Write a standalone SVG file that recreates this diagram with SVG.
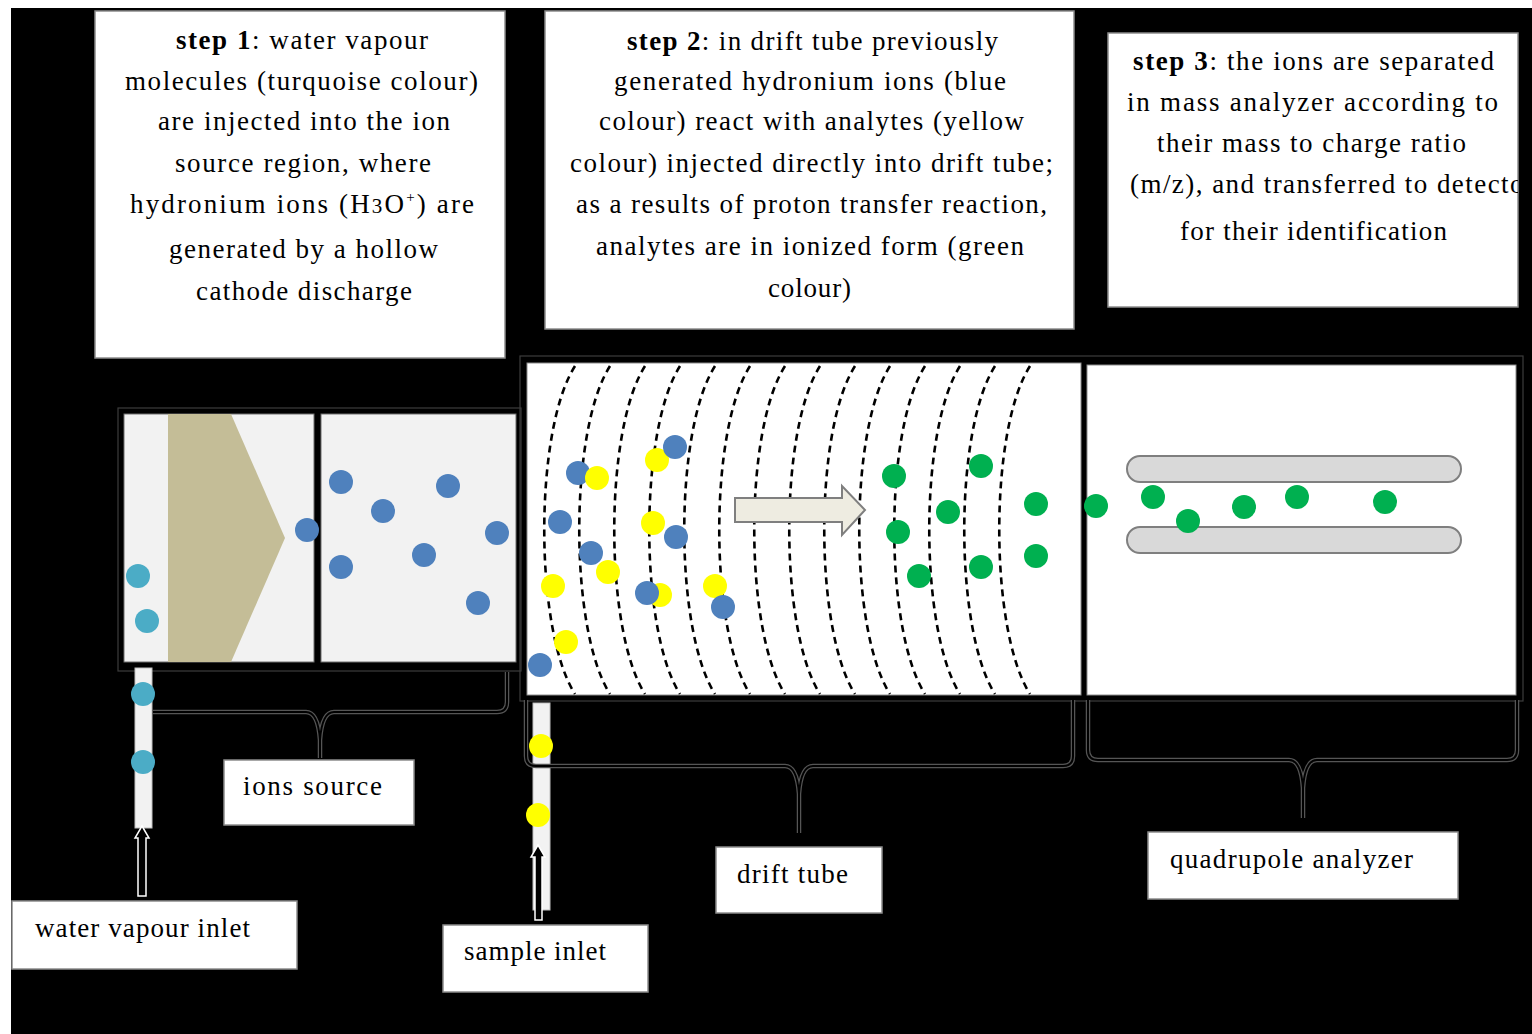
<svg xmlns="http://www.w3.org/2000/svg" xmlns:xlink="http://www.w3.org/1999/xlink" width="1532" height="1034" viewBox="0 0 1532 1034">
  <style>
    text { font-family: "Liberation Serif", "Times New Roman", serif; font-size: 27px; fill: #000; }
    .b { font-weight: bold; }
    .box { fill: #fff; stroke: #8c8c8c; stroke-width: 1.5; }
    .chamber { fill: #f2f2f2; stroke: #6e6e6e; stroke-width: 1; }
    .frame { fill: none; stroke: #3c3c3c; stroke-width: 1.2; }
    .ring { fill: none; stroke: #000; stroke-width: 2.6; stroke-dasharray: 7 5; }
    .tq { fill: #4bacc6; }
    .bl { fill: #4f81bd; }
    .ye { fill: #ffff00; }
    .gr { fill: #00b050; }
    .rod { fill: #d9d9d9; stroke: #7f7f7f; stroke-width: 2; }
    .brace-outer { fill: none; stroke: #555; stroke-width: 4.5; }
    .brace-inner { fill: none; stroke: #000; stroke-width: 2; }
    .inlet { fill: #000; stroke: #fff; stroke-width: 1.5; }
    .tube { fill: #f2f2f2; stroke: #bfbfbf; stroke-width: 1; }
  </style>
  <defs>
    <clipPath id="clip-step3"><rect x="1108" y="33" width="410" height="274"/></clipPath>
    <path id="brace-ion" d="M153,712 L306,712 Q318,712 320,740 L320,758 M320,740 Q322,712 334,712 L497,712 Q507,712 507,702 L507,672"/>
    <path id="brace-drift" d="M526,700 L526,756 Q526,766 536,766 L785,766 Q797,766 799,794 L799,833 M799,794 Q801,766 813,766 L1063,766 Q1073,766 1073,756 L1073,700"/>
    <path id="brace-quad" d="M1088,700 L1088,750 Q1088,760 1098,760 L1289,760 Q1301,760 1303,788 L1303,818 M1303,788 Q1305,760 1317,760 L1507,760 Q1517,760 1517,750 L1517,700"/>
  </defs>

  <!-- page and dark backdrop -->
  <rect x="0" y="0" width="1532" height="1034" fill="#fff"/>
  <rect x="11" y="8" width="1521" height="1026" fill="#000"/>

  <!-- step descriptions -->
  <g id="step1">
    <rect class="box" x="95" y="11" width="410" height="347"/>
    <text x="176" y="49" textLength="252" lengthAdjust="spacing"><tspan class="b">step 1</tspan>: water vapour</text>
    <text x="125" y="90" textLength="353" lengthAdjust="spacing">molecules (turquoise colour)</text>
    <text x="158" y="130" textLength="292" lengthAdjust="spacing">are injected into the ion</text>
    <text x="175" y="172" textLength="256" lengthAdjust="spacing">source region, where</text>
    <text x="130" y="213" textLength="344" lengthAdjust="spacing">hydronium ions (H<tspan font-size="21">3</tspan>O<tspan font-size="15" dy="-11">+</tspan><tspan dy="11">) are</tspan></text>
    <text x="169" y="258" textLength="269" lengthAdjust="spacing">generated by a hollow</text>
    <text x="196" y="300" textLength="216" lengthAdjust="spacing">cathode discharge</text>
  </g>

  <g id="step2">
    <rect class="box" x="545" y="11" width="529" height="318"/>
    <text x="627" y="50" textLength="371" lengthAdjust="spacing"><tspan class="b">step 2</tspan>: in drift tube previously</text>
    <text x="614" y="90" textLength="392" lengthAdjust="spacing">generated hydronium ions (blue</text>
    <text x="599" y="130" textLength="425" lengthAdjust="spacing">colour) react with analytes (yellow</text>
    <text x="570" y="172" textLength="483" lengthAdjust="spacing">colour) injected directly into drift tube;</text>
    <text x="576" y="213" textLength="471" lengthAdjust="spacing">as a results of proton transfer reaction,</text>
    <text x="596" y="255" textLength="428" lengthAdjust="spacing">analytes are in ionized form (green</text>
    <text x="768" y="297" textLength="83" lengthAdjust="spacing">colour)</text>
  </g>

  <g id="step3">
    <rect class="box" x="1108" y="33" width="410" height="274"/>
    <g clip-path="url(#clip-step3)">
      <text x="1133" y="70" textLength="361" lengthAdjust="spacing"><tspan class="b">step 3</tspan>: the ions are separated</text>
      <text x="1127" y="111" textLength="371" lengthAdjust="spacing">in mass analyzer according to</text>
      <text x="1157" y="152" textLength="309" lengthAdjust="spacing">their mass to charge ratio</text>
      <text x="1130" y="193" textLength="404" lengthAdjust="spacing">(m/z), and transferred to detector</text>
      <text x="1180" y="240" textLength="267" lengthAdjust="spacing">for their identification</text>
    </g>
  </g>

  <!-- ion source: discharge chamber and ion chamber -->
  <g id="ion-source">
    <rect class="frame" x="118" y="408" width="403" height="263"/>
    <rect class="chamber" x="124" y="414" width="190" height="248"/>
    <polygon points="168,414 231,414 285,538 231,662 168,662" fill="#c4bd97"/>
    <rect class="chamber" x="321" y="414" width="195" height="248"/>
    <circle class="tq" cx="138" cy="576" r="12"/>
    <circle class="tq" cx="147" cy="621" r="12"/>
    <circle class="bl" cx="307" cy="530" r="12"/>
    <circle class="bl" cx="341" cy="482" r="12"/>
    <circle class="bl" cx="383" cy="511" r="12"/>
    <circle class="bl" cx="448" cy="486" r="12"/>
    <circle class="bl" cx="497" cy="533" r="12"/>
    <circle class="bl" cx="341" cy="567" r="12"/>
    <circle class="bl" cx="424" cy="555" r="12"/>
    <circle class="bl" cx="478" cy="603" r="12"/>
  </g>

  <!-- drift tube with ring electrodes -->
  <g id="drift-tube">
    <rect class="frame" x="520" y="356" width="1003" height="345"/>
    <rect x="527" y="363" width="554" height="332" fill="#fff" stroke="#8c8c8c" stroke-width="1"/>
    <g>
      <path class="ring" d="M575,366 C534,430 534,630 575,694"/>
      <path class="ring" d="M610,366 C569,430 569,630 610,694"/>
      <path class="ring" d="M645,366 C604,430 604,630 645,694"/>
      <path class="ring" d="M680,366 C639,430 639,630 680,694"/>
      <path class="ring" d="M715,366 C674,430 674,630 715,694"/>
      <path class="ring" d="M750,366 C709,430 709,630 750,694"/>
      <path class="ring" d="M785,366 C744,430 744,630 785,694"/>
      <path class="ring" d="M820,366 C779,430 779,630 820,694"/>
      <path class="ring" d="M855,366 C814,430 814,630 855,694"/>
      <path class="ring" d="M890,366 C849,430 849,630 890,694"/>
      <path class="ring" d="M925,366 C884,430 884,630 925,694"/>
      <path class="ring" d="M960,366 C919,430 919,630 960,694"/>
      <path class="ring" d="M995,366 C954,430 954,630 995,694"/>
      <path class="ring" d="M1030,366 C989,430 989,630 1030,694"/>
    </g>
    <polygon points="735,498 842,498 842,486 865,510 842,535 842,522 735,522" fill="#eeece1" stroke="#7f7f7f" stroke-width="2"/>
    <circle class="bl" cx="578" cy="473" r="12"/>
    <circle class="ye" cx="597" cy="478" r="12"/>
    <circle class="ye" cx="657" cy="460" r="12"/>
    <circle class="bl" cx="675" cy="447" r="12"/>
    <circle class="bl" cx="560" cy="522" r="12"/>
    <circle class="ye" cx="653" cy="523" r="12"/>
    <circle class="bl" cx="676" cy="537" r="12"/>
    <circle class="bl" cx="591" cy="553" r="12"/>
    <circle class="ye" cx="608" cy="572" r="12"/>
    <circle class="ye" cx="553" cy="586" r="12"/>
    <circle class="ye" cx="660" cy="595" r="12"/>
    <circle class="bl" cx="647" cy="593" r="12"/>
    <circle class="ye" cx="715" cy="586" r="12"/>
    <circle class="bl" cx="723" cy="607" r="12"/>
    <circle class="ye" cx="566" cy="642" r="12"/>
    <circle class="bl" cx="540" cy="665" r="12"/>
    <circle class="gr" cx="894" cy="476" r="12"/>
    <circle class="gr" cx="981" cy="466" r="12"/>
    <circle class="gr" cx="948" cy="512" r="12"/>
    <circle class="gr" cx="898" cy="532" r="12"/>
    <circle class="gr" cx="1036" cy="504" r="12"/>
    <circle class="gr" cx="919" cy="576" r="12"/>
    <circle class="gr" cx="981" cy="567" r="12"/>
    <circle class="gr" cx="1036" cy="556" r="12"/>
  </g>

  <!-- quadrupole mass analyzer -->
  <g id="quadrupole">
    <rect x="1087" y="365" width="429" height="330" fill="#fff" stroke="#8c8c8c" stroke-width="1"/>
    <rect class="rod" x="1127" y="456" width="334" height="26" rx="13"/>
    <rect class="rod" x="1127" y="527" width="334" height="26" rx="13"/>
    <circle class="gr" cx="1096" cy="506" r="12"/>
    <circle class="gr" cx="1153" cy="497" r="12"/>
    <circle class="gr" cx="1188" cy="521" r="12"/>
    <circle class="gr" cx="1244" cy="507" r="12"/>
    <circle class="gr" cx="1297" cy="497" r="12"/>
    <circle class="gr" cx="1385" cy="502" r="12"/>
  </g>

  <!-- inlet capillaries -->
  <g id="water-inlet">
    <rect class="tube" x="135" y="668" width="17" height="160"/>
    <circle class="tq" cx="143" cy="694" r="12"/>
    <circle class="tq" cx="143" cy="762" r="12"/>
  </g>
  <g id="sample-inlet">
    <rect class="tube" x="533" y="703" width="17" height="207"/>
    <circle class="ye" cx="541" cy="746" r="12"/>
    <circle class="ye" cx="538" cy="815" r="12"/>
  </g>

  <!-- labels -->
  <g id="label-ions-source">
    <rect class="box" x="224" y="760" width="190" height="65"/>
    <text x="243" y="795" textLength="139" lengthAdjust="spacing">ions source</text>
  </g>
  <g id="label-water-inlet">
    <rect class="box" x="12" y="901" width="285" height="68"/>
    <text x="35" y="937" textLength="215" lengthAdjust="spacing">water vapour inlet</text>
  </g>
  <g id="label-sample-inlet">
    <rect class="box" x="443" y="925" width="205" height="67"/>
    <text x="464" y="960" textLength="142" lengthAdjust="spacing">sample inlet</text>
  </g>
  <g id="label-drift-tube">
    <rect class="box" x="716" y="847" width="166" height="66"/>
    <text x="737" y="883" textLength="111" lengthAdjust="spacing">drift tube</text>
  </g>
  <g id="label-quadrupole">
    <rect class="box" x="1148" y="832" width="310" height="67"/>
    <text x="1170" y="868" textLength="243" lengthAdjust="spacing">quadrupole analyzer</text>
  </g>

  <!-- braces and inlet flow arrows -->
  <g id="connectors">
    <use href="#brace-ion" class="brace-outer"/>
    <use href="#brace-ion" class="brace-inner"/>
    <use href="#brace-drift" class="brace-outer"/>
    <use href="#brace-drift" class="brace-inner"/>
    <use href="#brace-quad" class="brace-outer"/>
    <use href="#brace-quad" class="brace-inner"/>
    <polygon class="inlet" points="142,826 149,838 146,838 146,896 138,896 138,838 135,838"/>
    <polygon class="inlet" points="538,845 545,857 542,857 542,920 535,920 535,857 531,857"/>
  </g>
</svg>
